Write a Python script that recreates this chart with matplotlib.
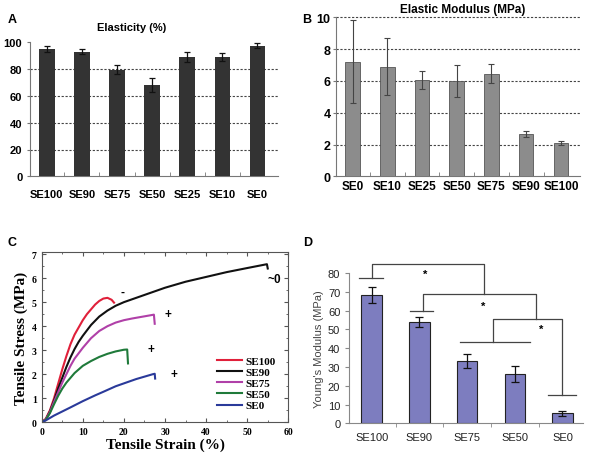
import numpy as np
import matplotlib.pyplot as plt
from matplotlib.ticker import MultipleLocator, FixedLocator

# ---------------- datos ----------------
# Panel A: elasticidad (%)
cat_a = ['SE100', 'SE90', 'SE75', 'SE50', 'SE25', 'SE10', 'SE0']
elast = [95, 93, 79.5, 68, 89, 89, 97.5]
elast_err = [2, 2, 3.5, 5, 4, 3, 2]

# Panel B: modulo elastico (MPa)
cat_b = ['SE0', 'SE10', 'SE25', 'SE50', 'SE75', 'SE90', 'SE100']
modulo = [7.2, 6.9, 6.05, 6.0, 6.45, 2.65, 2.1]
modulo_err = [2.6, 1.8, 0.55, 1.0, 0.6, 0.2, 0.12]

# Panel C: curvas esfuerzo-deformacion
se100_x = [0, 1, 2, 3, 4, 5, 6, 7, 8, 9, 10, 11, 12, 13, 14, 15, 16, 17, 17.6]
se100_y = [0, 0.15, 0.5, 1.0, 1.6, 2.2, 2.75, 3.25, 3.65, 3.95, 4.25, 4.5, 4.7, 4.9, 5.05, 5.15, 5.18, 5.1, 4.98]
se90_x = [0, 1, 2, 3, 4, 5, 6, 7, 8, 9, 10, 12, 14, 16, 18, 20, 25, 30, 35, 40, 45, 50, 54.8, 55]
se90_y = [0, 0.12, 0.45, 0.9, 1.4, 1.85, 2.3, 2.7, 3.05, 3.35, 3.6, 4.05, 4.4, 4.65, 4.85, 5.0, 5.3, 5.6, 5.85, 6.05, 6.25, 6.42, 6.58, 6.4]
se75_x = [0, 1, 2, 3, 4, 5, 6, 7, 8, 10, 12, 14, 16, 18, 20, 22, 24, 26, 27.3, 27.5]
se75_y = [0, 0.12, 0.42, 0.85, 1.25, 1.65, 2.0, 2.35, 2.65, 3.1, 3.5, 3.8, 4.0, 4.15, 4.25, 4.32, 4.38, 4.44, 4.48, 4.1]
se50_x = [0, 1, 2, 3, 4, 5, 6, 8, 10, 12, 14, 16, 18, 20, 20.8, 21]
se50_y = [0, 0.1, 0.38, 0.75, 1.1, 1.4, 1.65, 2.05, 2.35, 2.55, 2.72, 2.85, 2.95, 3.02, 3.03, 2.45]
se0_x = [0, 1, 2, 3, 5, 7, 10, 13, 15, 18, 20, 23, 25, 27, 27.5, 27.6]
se0_y = [0, 0.08, 0.18, 0.28, 0.45, 0.62, 0.88, 1.12, 1.27, 1.5, 1.62, 1.8, 1.9, 2.0, 2.02, 1.82]

# Panel D: modulo de Young (MPa)
cat_d = ['SE100', 'SE90', 'SE75', 'SE50', 'SE0']
young = [68.3, 53.8, 33.1, 26.2, 5.3]
young_err = [4.3, 2.6, 3.7, 4.2, 1.4]

plt.rcParams['font.family'] = 'Liberation Sans'

fig = plt.figure(figsize=(6, 4.56), dpi=100)
W, H = 600.0, 456.0


def caja(x0, x1, ytop, ybot):
    return [x0 / W, 1 - ybot / H, (x1 - x0) / W, (ybot - ytop) / H]


# ---------------- A ----------------
axA = fig.add_axes(caja(30, 278, 43.3, 177.3))
xa = np.arange(len(cat_a))
axA.bar(xa, elast, width=0.44, color='#333333', zorder=3)
axA.errorbar(xa, elast, yerr=elast_err, fmt='none', ecolor='#111111',
             elinewidth=0.9, capsize=2, capthick=0.9, zorder=4)
for g in [20, 40, 60, 80]:
    axA.axhline(g, color='#444444', ls=(0, (2, 1.5)), lw=0.8, zorder=1)
axA.set_xlim(-0.48, 6.59)
axA.set_ylim(0, 100)
axA.set_yticks([0, 20, 40, 60, 80, 100])
axA.set_xticks(xa)
axA.set_xticklabels(cat_a, fontsize=8, fontweight='bold')
axA.xaxis.set_minor_locator(FixedLocator(xa[:-1] + 0.5))
axA.tick_params(axis='x', which='major', length=0, pad=9)
axA.tick_params(axis='x', which='minor', direction='in', length=3, color='#777777')
axA.tick_params(axis='y', length=2, labelsize=8, color='#777777')
for t in axA.get_yticklabels():
    t.set_fontweight('bold')
for s in ['top', 'right']:
    axA.spines[s].set_visible(False)
for s in ['left', 'bottom']:
    axA.spines[s].set_color('#777777')
fig.text(132 / W, 1 - 28 / H, 'Elasticity (%)', fontsize=8, fontweight='bold',
         ha='center', va='center')
fig.text(8 / W, 1 - 20 / H, 'A', fontsize=9, fontweight='bold', va='center')

# ---------------- B ----------------
axB = fig.add_axes(caja(336, 580, 18.3, 177.3))
xb = np.arange(len(cat_b))
axB.bar(xb, modulo, width=0.42, color='#8c8c8c', edgecolor='#555555', lw=0.6, zorder=3)
axB.errorbar(xb, modulo, yerr=modulo_err, fmt='none', ecolor='#444444',
             elinewidth=0.8, capsize=2, capthick=0.8, zorder=4)
for g in [2, 4, 6, 8, 10]:
    axB.axhline(g, color='#444444', ls=(0, (2, 1.5)), lw=0.8, zorder=1, clip_on=False)
axB.set_xlim(-0.48, 6.55)
axB.set_ylim(0, 10)
axB.set_yticks([0, 2, 4, 6, 8, 10])
axB.set_xticks(xb)
axB.set_xticklabels(cat_b, fontsize=8.5, fontweight='bold')
axB.xaxis.set_minor_locator(FixedLocator(xb[:-1] + 0.5))
axB.tick_params(axis='x', which='major', length=0, pad=3)
axB.tick_params(axis='x', which='minor', direction='in', length=3, color='#777777')
axB.tick_params(axis='y', length=2, labelsize=9, color='#777777', pad=2)
for t in axB.get_yticklabels():
    t.set_fontweight('bold')
for s in ['top', 'right']:
    axB.spines[s].set_visible(False)
for s in ['left', 'bottom']:
    axB.spines[s].set_color('#777777')
fig.text(463 / W, 1 - 10 / H, 'Elastic Modulus (MPa)', fontsize=8.5, fontweight='bold',
         ha='center', va='center')
fig.text(302 / W, 1 - 20 / H, 'B', fontsize=9, fontweight='bold', va='center')

# ---------------- C ----------------
axC = fig.add_axes(caja(41.7, 288.3, 252.7, 423.3))
curvas = [(se100_x, se100_y, '#e0203a', 'SE100'),
          (se90_x, se90_y, '#111111', 'SE90'),
          (se75_x, se75_y, '#b040a8', 'SE75'),
          (se50_x, se50_y, '#1f7a3a', 'SE50'),
          (se0_x, se0_y, '#2a3a9a', 'SE0')]
for cx, cy, col, lab in curvas:
    axC.plot(cx, cy, color=col, lw=1.5, label=lab)
axC.set_xlim(0, 60)
axC.set_ylim(0, 7.1)
axC.xaxis.set_major_locator(MultipleLocator(10))
axC.xaxis.set_minor_locator(MultipleLocator(5))
axC.yaxis.set_major_locator(MultipleLocator(1))
axC.yaxis.set_minor_locator(MultipleLocator(0.5))
axC.tick_params(which='both', direction='in', top=True, right=True, labelsize=7,
                color='#555555')
axC.tick_params(which='major', length=3)
axC.tick_params(which='minor', length=1.5)
for t in axC.get_xticklabels() + axC.get_yticklabels():
    t.set_family('Liberation Serif')
    t.set_fontweight('bold')
for s in axC.spines.values():
    s.set_color('#555555')
axC.set_xlabel('Tensile Strain (%)', family='Liberation Serif', fontweight='bold',
               fontsize=11, labelpad=1)
axC.set_ylabel('Tensile Stress (MPa)', family='Liberation Serif', fontweight='bold',
               fontsize=11, labelpad=3)
marcas = [(19.6, 5.44, '-'), (30.7, 4.49, '+'), (26.7, 3.03, '+'),
          (32.2, 1.99, '+'), (56.7, 5.97, '~0')]
for mx, my, mt in marcas:
    axC.text(mx, my, mt, fontsize=8.5, fontweight='bold', ha='center', va='center')
axC.legend(loc='upper left', bbox_to_anchor=(0.69, 0.42), frameon=False,
           prop={'family': 'Liberation Serif', 'weight': 'bold', 'size': 8},
           handlelength=2.2, handletextpad=0.3, labelspacing=0.12, borderpad=0)
fig.text(8 / W, 1 - 243 / H, 'C', fontsize=9, fontweight='bold', va='center')

# ---------------- D ----------------
axD = fig.add_axes(caja(349.3, 583, 274, 424.3))
xd = np.arange(len(cat_d))
axD.bar(xd, young, width=0.43, color='#7d7dbf', edgecolor='#222222', lw=0.8, zorder=3)
axD.errorbar(xd, young, yerr=young_err, fmt='none', ecolor='#111111',
             elinewidth=0.9, capsize=3, capthick=0.9, zorder=4)
axD.set_xlim(-0.47, 4.43)
axD.set_ylim(0, 80)
axD.set_yticks(np.arange(0, 81, 10))
axD.set_xticks(xd)
axD.set_xticklabels(cat_d, fontsize=8, color='#222222')
axD.xaxis.set_minor_locator(FixedLocator(xd[:-1] + 0.5))
axD.tick_params(axis='x', which='major', length=0, pad=6)
axD.tick_params(axis='x', which='minor', direction='out', length=3, color='#888888')
axD.tick_params(axis='y', length=3, labelsize=8, color='#888888', labelcolor='#222222')
for s in ['top', 'right']:
    axD.spines[s].set_visible(False)
for s in ['left', 'bottom']:
    axD.spines[s].set_color('#888888')
axD.set_ylabel("Young's Modulus (MPa)", fontsize=8, color='#444444', labelpad=3)

lc = '#444444'
# lineas horizontales sobre grupos
for x0, x1, y in [(-0.26, 0.24, 77.2), (0.8, 1.29, 60), (1.85, 3.32, 43.5), (3.7, 4.29, 14.9)]:
    axD.plot([x0, x1], [y, y], color=lc, lw=0.9, clip_on=False)
# corchetes
corchetes = [(0.0, 77.2, 84.6, 2.36, 68.8),
             (1.07, 60, 68.8, 3.44, 55.3),
             (2.54, 43.5, 55.3, 4.0, 14.9)]
for xa0, ya0, ytop, xa1, ya1 in corchetes:
    axD.plot([xa0, xa0, xa1, xa1], [ya0, ytop, ytop, ya1], color=lc, lw=0.9, clip_on=False)
for sx, sy in [(1.12, 79.8), (2.34, 62.6), (3.55, 50.5)]:
    axD.text(sx, sy, '*', fontsize=8, fontweight='bold', ha='center', va='center')
fig.text(303 / W, 1 - 243 / H, 'D', fontsize=9, fontweight='bold', va='center')

fig.savefig('out.png', dpi=100)
